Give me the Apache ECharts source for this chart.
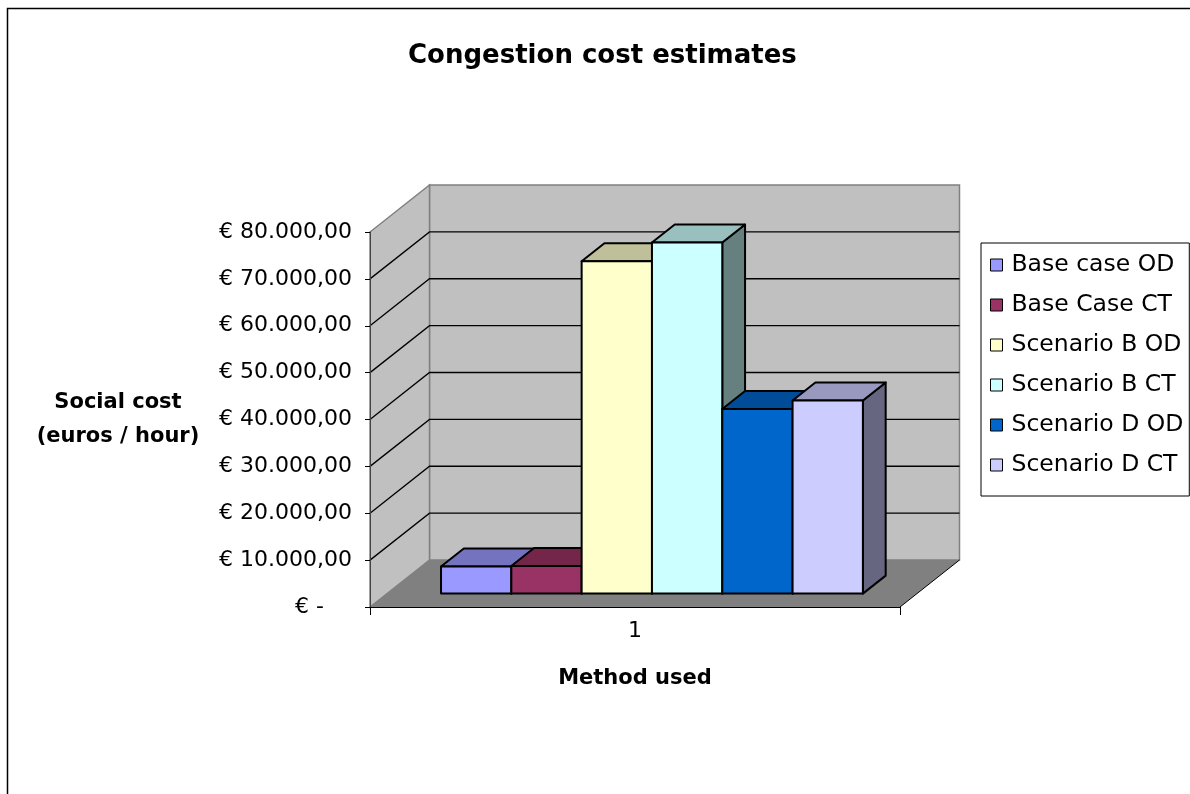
<!DOCTYPE html>
<html>
<head>
<meta charset="utf-8">
<title>Congestion cost estimates</title>
<script src="https://cdn.jsdelivr.net/npm/echarts@6/dist/echarts.min.js"></script>
<style>
  html, body { margin: 0; padding: 0; background: #ffffff; }
  #chart { width: 1190px; height: 794px; }
</style>
</head>
<body>
<div id="chart"></div>
<script>
// ---- chart data ----
const categories = ['1'];
const seriesNames = ['Base case OD', 'Base Case CT', 'Scenario B OD', 'Scenario B CT', 'Scenario D OD', 'Scenario D CT'];
const seriesValues = [5800, 5900, 70900, 74900, 39400, 41200];
const valueTicks = [0, 10000, 20000, 30000, 40000, 50000, 60000, 70000, 80000];
const tickLabels = ['€ -    ', '€ 10.000,00', '€ 20.000,00', '€ 30.000,00', '€ 40.000,00',
                    '€ 50.000,00', '€ 60.000,00', '€ 70.000,00', '€ 80.000,00'];

// ---- colours of the bar faces ----
const frontColors = ['#9999FF', '#993366', '#FFFFCC', '#CCFFFF', '#0066CC', '#CCCCFF'];
const topColors   = ['#7373BF', '#732649', '#BFBF99', '#99BFBF', '#004C99', '#9999BF'];
const sideColors  = ['#4C4C80', '#4C1933', '#808066', '#668080', '#003366', '#666680'];

// ---- 3D projection settings (pixels / fractions of the plot depth) ----
const DEPTH_DX = 59.5;     // full depth of the plot box, horizontal shift
const DEPTH_DY = -47;      // full depth of the plot box, vertical shift
const BAR_FRONT = 0.285;   // depth where the bar fronts sit
const BAR_DEPTH = 0.383;   // depth of each bar
const GROUP_FRAC = 0.796;  // share of the category band used by the bars

const FONT = 'DejaVu Sans';

function sceneRender(params, api) {
  const bw = api.size([1, 0])[0];
  const base = api.coord([0, valueTicks[0]]);
  const top = api.coord([0, valueTicks[valueTicks.length - 1]]);
  const L = base[0] - bw / 2, R = base[0] + bw / 2;
  const y0 = base[1], yT = top[1];
  const dx = DEPTH_DX, dy = DEPTH_DY;
  const children = [];
  // back wall
  children.push({ type: 'polygon', shape: { points: [[L + dx, yT + dy], [R + dx, yT + dy], [R + dx, y0 + dy], [L + dx, y0 + dy]] },
    style: { fill: '#C0C0C0', stroke: '#808080', lineWidth: 1.5 } });
  // side wall
  children.push({ type: 'polygon', shape: { points: [[L, y0], [L, yT], [L + dx, yT + dy], [L + dx, y0 + dy]] },
    style: { fill: '#C0C0C0', stroke: '#808080', lineWidth: 1.5 } });
  // floor
  children.push({ type: 'polygon', shape: { points: [[L, y0], [R, y0], [R + dx, y0 + dy], [L + dx, y0 + dy]] },
    style: { fill: '#808080', stroke: null } });
  children.push({ type: 'line', shape: { x1: R, y1: y0, x2: R + dx, y2: y0 + dy },
    style: { stroke: '#000', lineWidth: 1 } });
  // gridlines on side and back walls
  for (let i = 1; i < valueTicks.length - 1; i++) {
    const y = api.coord([0, valueTicks[i]])[1];
    children.push({ type: 'polyline', shape: { points: [[L, y], [L + dx, y + dy], [R + dx, y + dy]] },
      style: { stroke: '#000', lineWidth: 1.3, fill: null } });
  }
  return { type: 'group', children: children };
}

function makeBarRender(i) {
  return function (params, api) {
    const bw = api.size([1, 0])[0];
    const cat = api.value(0);
    const base = api.coord([cat, 0]);
    const topPt = api.coord([cat, api.value(1)]);
    const group = GROUP_FRAC * bw;
    const w = group / seriesNames.length;
    const xf = base[0] - group / 2 + i * w + BAR_FRONT * DEPTH_DX;
    const yb = base[1] + BAR_FRONT * DEPTH_DY;
    const yt = topPt[1] + BAR_FRONT * DEPTH_DY;
    const ddx = BAR_DEPTH * DEPTH_DX, ddy = BAR_DEPTH * DEPTH_DY;
    const edge = { stroke: '#000', lineWidth: 2, lineJoin: 'round' };
    return {
      type: 'group',
      children: [
        { type: 'polygon', shape: { points: [[xf + w, yt], [xf + w + ddx, yt + ddy], [xf + w + ddx, yb + ddy], [xf + w, yb]] },
          style: Object.assign({ fill: sideColors[i] }, edge) },
        { type: 'polygon', shape: { points: [[xf, yt], [xf + w, yt], [xf + w + ddx, yt + ddy], [xf + ddx, yt + ddy]] },
          style: Object.assign({ fill: topColors[i] }, edge) },
        { type: 'rect', shape: { x: xf, y: yt, width: w, height: yb - yt },
          style: Object.assign({ fill: frontColors[i] }, edge) }
      ]
    };
  };
}

const series = [{
  type: 'custom',
  name: 'scene',
  z: 1,
  silent: true,
  renderItem: sceneRender,
  encode: { x: 0, y: 1 },
  data: [[0, 0]]
}];
seriesNames.forEach(function (name, i) {
  series.push({
    type: 'custom',
    name: name,
    z: 2,
    renderItem: makeBarRender(i),
    itemStyle: { color: frontColors[i], borderColor: '#000', borderWidth: 1 },
    encode: { x: 0, y: 1 },
    data: [[0, seriesValues[i]]]
  });
});

const chart = echarts.init(document.getElementById('chart'), null, { renderer: 'canvas' });
chart.setOption({
  animation: false,
  backgroundColor: '#ffffff',
  title: {
    text: 'Congestion cost estimates',
    left: 403,
    top: 38,
    textStyle: { fontFamily: FONT, fontWeight: 'bold', fontSize: 26, color: '#000' }
  },
  graphic: [{
    type: 'rect',
    shape: { x: 7.5, y: 8.5, width: 1300, height: 900 },
    style: { fill: null, stroke: '#000', lineWidth: 1.5 },
    silent: true,
    z: 0
  }],
  legend: {
    data: seriesNames,
    orient: 'vertical',
    left: 981,
    top: 243,
    padding: [10, 6, 19, 9],
    itemGap: 16,
    itemWidth: 12,
    itemHeight: 12,
    icon: 'rect',
    backgroundColor: '#ffffff',
    borderColor: '#000',
    borderWidth: 1,
    itemStyle: { borderColor: '#000', borderWidth: 1 },
    textStyle: { fontFamily: FONT, fontSize: 23.5, lineHeight: 24, color: '#000', padding: [0, 0, 0, 4] }
  },
  grid: { left: 370, right: 290, top: 232, bottom: 187, containLabel: false },
  xAxis: {
    type: 'category',
    data: categories,
    z: 5,
    axisLine: { show: true, lineStyle: { color: '#000', width: 1 } },
    axisTick: { show: true, length: 8, lineStyle: { color: '#000' } },
    axisLabel: { margin: 13, fontFamily: FONT, fontSize: 22, color: '#000' },
    splitLine: { show: false },
    name: 'Method used',
    nameLocation: 'middle',
    nameGap: 72,
    nameTextStyle: { fontFamily: FONT, fontWeight: 'bold', fontSize: 21, color: '#000', verticalAlign: 'middle' }
  },
  yAxis: {
    type: 'value',
    min: 0,
    max: 80000,
    interval: 10000,
    z: 5,
    axisLine: { show: true, lineStyle: { color: '#444', width: 1 } },
    axisTick: { show: true, length: 5, lineStyle: { color: '#000' } },
    axisLabel: {
      margin: 18,
      fontFamily: FONT,
      fontSize: 22,
      color: '#000',
      formatter: function (v) {
        const k = valueTicks.indexOf(v);
        return k >= 0 ? tickLabels[k] : '';
      }
    },
    splitLine: { show: false },
    name: 'Social cost\n(euros / hour)',
    nameLocation: 'middle',
    nameGap: 252,
    nameRotate: 0,
    nameTextStyle: { fontFamily: FONT, fontWeight: 'bold', fontSize: 21, lineHeight: 34, color: '#000', align: 'center', verticalAlign: 'middle', padding: [4, 0, 0, 0] }
  },
  series: series
});
</script>
</body>
</html>
